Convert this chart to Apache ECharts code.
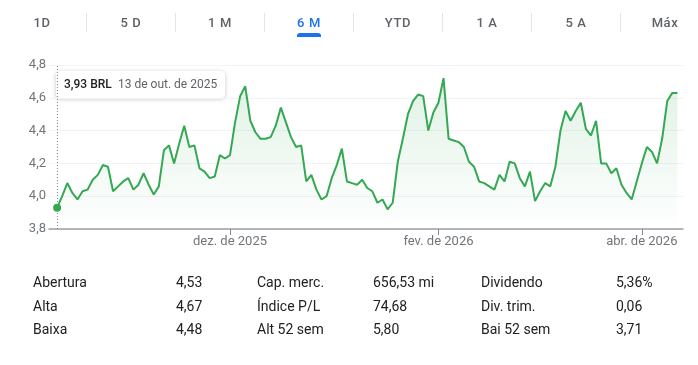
<!DOCTYPE html>
<html><head><meta charset="utf-8">
<script src="https://cdn.jsdelivr.net/npm/echarts@6/dist/echarts.min.js"></script>
<style>
body{margin:0;background:#fff;font-family:Roboto,"Noto Sans",Arial,sans-serif;}
#wrap{position:relative;width:698px;height:365px;overflow:hidden;}
#chart{position:absolute;left:0;top:0;width:698px;height:365px;}
.tab{position:absolute;top:14px;height:18px;line-height:18px;width:80px;margin-left:-40px;text-align:center;font-size:13px;font-weight:500;color:#5f6368;letter-spacing:0.6px;}
.tab.on{color:#1a73e8;}
.sep{position:absolute;top:13px;width:1px;height:19px;background:#e3e5e8;}
.bar{position:absolute;left:297px;top:33px;width:24px;height:4px;background:#1a73e8;border-radius:3px 3px 0 0;}
.cell{position:absolute;height:18px;line-height:18px;font-size:14px;color:#202124;white-space:nowrap;}
</style></head>
<body><div id="wrap"><div id="chart"></div></div>
<script>
// ---- data ----
const tabs = ["1D","5 D","1 M","6 M","YTD","1 A","5 A","Máx"];
const activeTab = "6 M";
const dates = [
"2025-10-13","2025-10-14","2025-10-15","2025-10-16","2025-10-17","2025-10-20","2025-10-21","2025-10-22","2025-10-23","2025-10-24","2025-10-27","2025-10-28","2025-10-29","2025-10-30","2025-10-31",
"2025-11-03","2025-11-04","2025-11-05","2025-11-06","2025-11-07","2025-11-10","2025-11-11","2025-11-12","2025-11-13","2025-11-14","2025-11-17","2025-11-18","2025-11-19","2025-11-21","2025-11-24","2025-11-25","2025-11-26","2025-11-27","2025-11-28",
"2025-12-01","2025-12-02","2025-12-03","2025-12-04","2025-12-05","2025-12-08","2025-12-09","2025-12-10","2025-12-11","2025-12-12","2025-12-15","2025-12-16","2025-12-17","2025-12-18","2025-12-19","2025-12-22","2025-12-23","2025-12-26","2025-12-29","2025-12-30",
"2026-01-02","2026-01-05","2026-01-06","2026-01-07","2026-01-08","2026-01-09","2026-01-12","2026-01-13","2026-01-14","2026-01-15","2026-01-16","2026-01-19","2026-01-20","2026-01-21","2026-01-22","2026-01-23","2026-01-26","2026-01-27","2026-01-28","2026-01-29","2026-01-30",
"2026-02-02","2026-02-03","2026-02-04","2026-02-05","2026-02-06","2026-02-09","2026-02-10","2026-02-11","2026-02-12","2026-02-13","2026-02-18","2026-02-19","2026-02-20","2026-02-23","2026-02-24","2026-02-25","2026-02-26","2026-02-27",
"2026-03-02","2026-03-03","2026-03-04","2026-03-05","2026-03-06","2026-03-09","2026-03-10","2026-03-11","2026-03-12","2026-03-13","2026-03-16","2026-03-17","2026-03-18","2026-03-19","2026-03-20","2026-03-23","2026-03-24","2026-03-25","2026-03-26","2026-03-27","2026-03-30","2026-03-31",
"2026-04-01","2026-04-02","2026-04-06","2026-04-07","2026-04-08","2026-04-09","2026-04-10","2026-04-13"];
const prices = [
3.93,4.00,4.08,4.02,3.98,4.03,4.04,4.10,4.13,4.19,4.18,4.03,4.06,4.09,4.11,4.04,4.07,4.14,4.07,4.01,
4.06,4.28,4.31,4.20,4.32,4.43,4.30,4.31,4.17,4.15,4.11,4.12,4.25,4.23,4.25,4.45,4.61,4.67,4.46,4.39,
4.35,4.35,4.36,4.43,4.54,4.45,4.36,4.30,4.31,4.09,4.13,4.04,3.98,4.00,4.11,4.19,4.29,4.09,4.08,4.07,
4.10,4.05,4.03,3.96,3.98,3.92,3.96,4.21,4.35,4.50,4.58,4.62,4.61,4.40,4.51,4.57,4.72,4.35,4.34,4.33,
4.30,4.21,4.18,4.09,4.08,4.06,4.04,4.13,4.09,4.21,4.20,4.11,4.06,4.15,3.97,4.03,4.08,4.06,4.18,4.40,
4.52,4.46,4.52,4.57,4.41,4.37,4.46,4.20,4.20,4.14,4.17,4.07,4.02,3.98,4.09,4.20,4.30,4.27,4.20,4.35,
4.58,4.63,4.63];
const tickDates = ["2025-12-01","2026-02-02","2026-04-01"];
const tickLabels = ["dez. de 2025","fev. de 2026","abr. de 2026"];
const monthAbbr = ["jan.","fev.","mar.","abr.","mai.","jun.","jul.","ago.","set.","out.","nov.","dez."];
const currency = "BRL";
const statLabels1 = ["Abertura","Alta","Baixa"];
const statValues1 = ["4,53","4,67","4,48"];
const statLabels2 = ["Cap. merc.","Índice P/L","Alt 52 sem"];
const statValues2 = ["656,53 mi","74,68","5,80"];
const statLabels3 = ["Dividendo","Div. trim.","Bai 52 sem"];
const statValues3 = ["5,36%","0,06","3,71"];

// ---- header & table (HTML text) ----
const wrap = document.getElementById('wrap');
tabs.forEach((t,i)=>{
  const d=document.createElement('div');d.className='tab'+(t===activeTab?' on':'');
  d.style.left=(42+89*i)+'px';d.textContent=t;wrap.appendChild(d);
  if(i<tabs.length-1){const s=document.createElement('div');s.className='sep';s.style.left=(86+89*i)+'px';wrap.appendChild(s);}
});
const bar=document.createElement('div');bar.className='bar';wrap.appendChild(bar);
const cols=[[statLabels1,33],[statValues1,176],[statLabels2,257],[statValues2,373],[statLabels3,481],[statValues3,616]];
const rowY=[273,297,320];
cols.forEach(([arr,x])=>arr.forEach((t,r)=>{
  const d=document.createElement('div');d.className='cell';d.style.left=x+'px';d.style.top=rowY[r]+'px';d.textContent=t;wrap.appendChild(d);
}));

// ---- chart ----
const tickIdx = tickDates.map(d=>dates.indexOf(d));
const fmtNum = v=>v.toFixed(2).replace('.',',');
const fmtDate = s=>{const [y,m,d]=s.split('-').map(Number);return d+' de '+monthAbbr[m-1]+' de '+y;};
const chart = echarts.init(document.getElementById('chart'),null,{renderer:'canvas'});
chart.setOption({
  animation:false,
  grid:{left:49,right:15,top:65,bottom:136},
  xAxis:{type:'value',min:-1.6,max:dates.length+0.1,
    axisLine:{show:true,lineStyle:{color:'#9aa0a6',width:1.5}},
    axisTick:{show:true,customValues:tickIdx,length:6,lineStyle:{color:'#80868b',width:1}},
    axisLabel:{customValues:tickIdx,formatter:v=>tickLabels[tickIdx.indexOf(Math.round(v))]||'',color:'#70757a',fontSize:13,margin:6,fontFamily:'Roboto'},
    splitLine:{show:false}},
  yAxis:{type:'value',min:3.8,max:4.8,interval:0.2,
    axisLabel:{formatter:v=>v.toFixed(1).replace('.',','),color:'#70757a',fontSize:13,margin:3,fontFamily:'Roboto'},
    splitLine:{lineStyle:{color:'#f1f3f4',width:1}},axisLine:{show:false},axisTick:{show:false}},
  series:[{type:'line',data:prices.map((p,i)=>[i,p]),showSymbol:false,symbol:'none',
    lineStyle:{color:'#34a853',width:2},
    areaStyle:{origin:'start',color:new echarts.graphic.LinearGradient(0,0,0,1,[{offset:0,color:'rgba(52,168,83,0.22)'},{offset:1,color:'rgba(52,168,83,0)'}])},
    markLine:{silent:true,symbol:'none',data:[{xAxis:0}],lineStyle:{color:'#80868b',type:[1,2],width:1},label:{show:false}},
    markPoint:{silent:true,symbol:'circle',symbolSize:8,itemStyle:{color:'#34a853'},label:{show:false},data:[{coord:[0,prices[0]]}]}
  }],
  graphic:[{type:'group',left:56,top:71,z:100,children:[
    {type:'rect',shape:{x:0,y:0,width:169,height:27,r:4},style:{fill:'#fff',shadowBlur:4,shadowColor:'rgba(60,64,67,0.3)',shadowOffsetY:1}},
    {type:'text',x:8,y:13.5,style:{text:fmtNum(prices[0])+' '+currency,font:'500 12px Roboto',fill:'#202124',verticalAlign:'middle'}},
    {type:'text',x:62,y:13.5,style:{text:fmtDate(dates[0]),font:'12px Roboto',fill:'#5f6368',verticalAlign:'middle'}}
  ]}]
});
</script></body></html>
